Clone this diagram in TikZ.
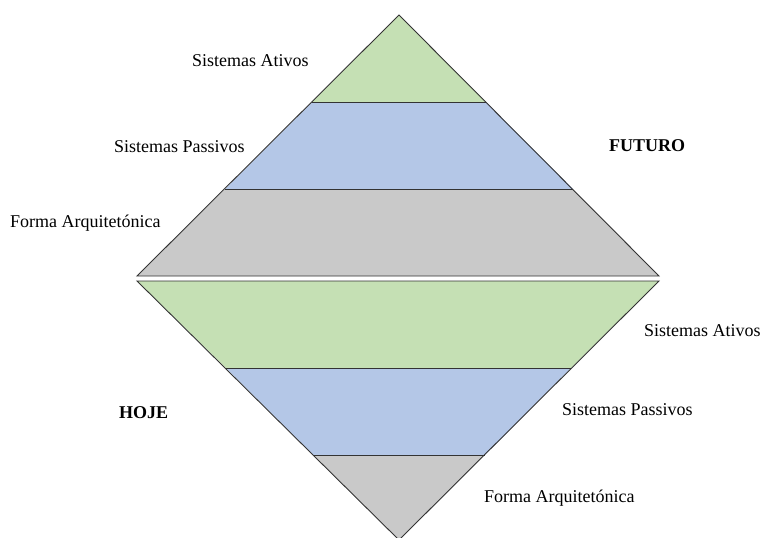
\documentclass[tikz,border=0pt]{standalone}
\usepackage{fontspec}
\setmainfont{Liberation Serif}
\definecolor{gAtivo}{HTML}{C5E0B4}
\definecolor{bPassivo}{HTML}{B4C7E7}
\definecolor{cForma}{HTML}{C9C9C9}
\begin{document}
\begin{tikzpicture}[x=1pt,y=-1pt,
  lbl/.style={anchor=base west,inner sep=0pt,font=\fontsize{18}{20}\selectfont},
  blbl/.style={anchor=base west,inner sep=0pt,font=\fontsize{18}{20}\selectfont\bfseries},
  edge/.style={draw=black!80,line width=0.9pt,line join=miter}]
\useasboundingbox (0,0) rectangle (763,538);
% upper triangle
\fill[gAtivo] (399,15) -- (486,102) -- (312,102) -- cycle;
\fill[bPassivo] (312,102) -- (486,102) -- (573,189) -- (225,189) -- cycle;
\fill[cForma] (225,189) -- (573,189) -- (659,276) -- (137,276) -- cycle;
\draw[edge] (399,15) -- (659,276) -- (137,276) -- cycle;
\draw[edge] (312,102) -- (486,102);
\draw[edge] (225,189) -- (573,189);
% lower triangle
\fill[gAtivo] (137,281) -- (659,281) -- (571,368) -- (226,368) -- cycle;
\fill[bPassivo] (226,368) -- (571,368) -- (485,455) -- (313,455) -- cycle;
\fill[cForma] (313,455) -- (485,455) -- (399,540) -- cycle;
\draw[edge] (137,281) -- (659,281) -- (399,540) -- cycle;
\draw[edge] (226,368) -- (571,368);
\draw[edge] (313,455) -- (485,455);
% labels
\node[lbl] (ua) at (192,66) {Sistemas Ativos};
\node[lbl] (up) at (114,152) {Sistemas Passivos};
\node[lbl] (uf) at (10,227) {Forma Arquitetónica};
\node[blbl] (fut) at (609,151) {FUTURO};
\node[blbl] (hoje) at (119,418) {HOJE};
\node[lbl] (la) at (644,336) {Sistemas Ativos};
\node[lbl] (lp) at (562,415) {Sistemas Passivos};
\node[lbl] (lf) at (484,502) {Forma Arquitetónica};
\end{tikzpicture}
\end{document}
